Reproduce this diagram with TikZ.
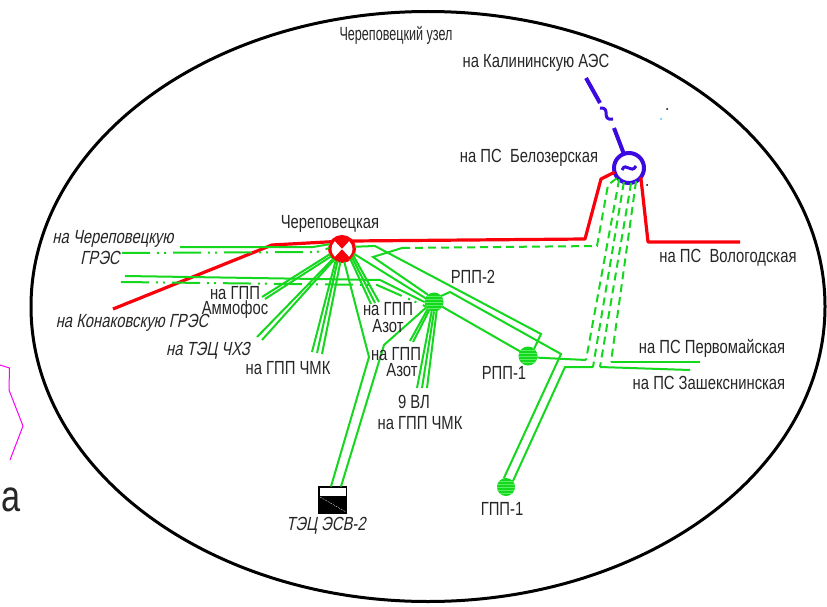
\documentclass[tikz,border=0pt]{standalone}
\usetikzlibrary{shapes.geometric}
\usepackage{graphicx}
\usepackage{fontspec}
\setmainfont[FakeStretch=0.78]{Liberation Sans}
\newfontfamily\cadit[FakeStretch=0.78,FakeSlant=0.2]{Liberation Sans}
\definecolor{gline}{RGB}{20,215,30}
\definecolor{ghatch}{RGB}{90,240,100}
\definecolor{rline}{RGB}{250,0,10}
\definecolor{bline}{RGB}{60,10,225}
\definecolor{mline}{RGB}{250,0,250}
\tikzset{
 lbl/.style={inner sep=0pt,font=\fontsize{19}{19}\selectfont,text=black!85},
 ilbl/.style={inner sep=0pt,font=\fontsize{19}{19}\selectfont\cadit,text=black!85},
 gl/.style={draw=gline,line width=2pt,line join=miter},
 gd/.style={gl,dash pattern=on 8pt off 5pt},
 gdd/.style={gl,dash pattern=on 28pt off 7pt on 2pt off 5pt on 2pt off 7pt},
 rl/.style={draw=rline,line width=3.2pt,line join=round},
 bl/.style={draw=bline,line width=4pt},
 stat/.style={circle,inner sep=0pt,outer sep=0pt,minimum size=#1,fill=gline,
   path picture={\foreach \hy in {-6,-3,0,3,6}{\draw[ghatch,line width=.5pt]
     ([yshift=\hy pt]path picture bounding box.west) -- ([yshift=\hy pt]path picture bounding box.east);}}}
}
\begin{document}
\begin{tikzpicture}[x=1pt,y=-1pt]
\useasboundingbox (0,0) rectangle (827,607);
\fill[white] (0,0) rectangle (827,607);
% outer ellipse
\node[ellipse,draw=black,line width=3pt,minimum width=794pt,minimum height=590pt,inner sep=0pt] (uzel) at (428,306.5) {};
% stations
\node[circle,draw=rline,line width=2pt,inner sep=0pt,outer sep=0pt,minimum size=26pt,fill=rline] (ch) at (342,249) {};
\begin{scope}
 \clip (ch) circle (10.5pt);
 \fill[white] (ch.center) -- (330,236) -- (330,262) -- cycle;
 \fill[white] (ch.center) -- (354,236) -- (354,262) -- cycle;
\end{scope}
\node[circle,draw=bline,line width=4pt,inner sep=0pt,outer sep=0pt,minimum size=30pt,fill=white] (bz) at (629,168) {};
\node[stat=19pt] (p2) at (434,302) {};
\node[stat=19pt] (p1) at (528,356) {};
\node[stat=18pt] (g1) at (506,487) {};
\node[rectangle,draw=black,line width=1pt,fill=black,inner sep=0pt,outer sep=0pt,minimum width=28pt,minimum height=27pt] (es) at (332.5,500) {};
\fill[white] (320,487.5) rectangle (345.5,496);
\draw[white,line width=.3pt,dash pattern=on 2pt off 1pt] (320,497) -- (346,512);
% free ends
\coordinate (kal) at (586,78);
\coordinate (volog) at (740,242);
\coordinate (kona) at (113,309);
\coordinate (tgres) at (180,247);
\coordinate (dgres) at (122,253);
\coordinate (t2) at (125,276);
\coordinate (d2) at (121,282);
\coordinate (am1) at (262,297);
\coordinate (am2) at (265,299);
\coordinate (hz1) at (257,337);
\coordinate (hz2) at (262,340);
\coordinate (ck1) at (312,352);
\coordinate (ck2) at (317,353);
\coordinate (ck3) at (322,354);
\coordinate (az1) at (371,304);
\coordinate (az2) at (375,303);
\coordinate (az3) at (379,302);
\coordinate (bz1) at (410,341);
\coordinate (bz2) at (413,342);
\coordinate (vl1) at (417,388);
\coordinate (vl2) at (422,388);
\coordinate (vl3) at (427,388);
\coordinate (per) at (700,362);
\coordinate (zas) at (690,370);
\coordinate (j1) at (586,360);
\coordinate (j2) at (593,367);
\coordinate (j3) at (600,367);
\coordinate (j4) at (611,362);
% blue feeder
\draw[bl] (kal) -- (600,103);
\draw[bl] (614,128) -- (bz.110);
\draw[draw=bline,line width=3pt] (600,108) .. controls (612,107) and (600,121) .. (613,119);
\draw[draw=bline,line width=3pt] (622,170) .. controls (626,161) and (631,175) .. (636,166);
% red lines
\draw[rl] (kona) -- (272,245) -- (ch.146);
\draw[rl] (ch.38) -- (585,239) -- (601,179) -- (bz.196);
\draw[rl] (bz.322) -- (648,242) -- (volog);
% green left
\draw[gl] (tgres) -- (313,247) -- (ch.158);
\draw[gdd] (dgres) -- (317,252) -- (ch.176);
\draw[gl] (t2) -- (380,280) -- (p2.180);
\draw[gdd] (d2) -- (377,285) -- (p2.207);
% radial from Cherepovetskaya
\draw[gl] (ch.203) -- (am1);
\draw[gl] (ch.214) -- (am2);
\draw[gl] (ch.228) -- (hz1);
\draw[gl] (ch.234) -- (hz2);
\draw[gl] (ch.241) -- (ck1);
\draw[gl] (ch.250) -- (ck2);
\draw[gl] (ch.263) -- (ck3);
\draw[gl] (ch.280) -- (369,357) -- (es.north west -| 331,0);
\draw[gl] (ch.310) -- (az1);
\draw[gl] (ch.320) -- (az2);
\draw[gl] (ch.330) -- (az3);
\draw[gl] (ch.338) -- (p2.156);
\draw[gl] (ch.10) -- (375,246) -- (541,334) -- (p1.50);
\draw[gl] (p2.130) -- (373,257) -- (402,248);
\draw[gd] (402,248) -- (597,246) -- (608,185) -- (bz.220);
% from RPP-2
\draw[gl] (p2.215) -- (384,345) -- (es.north east -| 341,0);
\draw[gl] (p2.228) -- (bz1);
\draw[gl] (p2.240) -- (bz2);
\draw[gl] (p2.256) -- (vl1);
\draw[gl] (p2.270) -- (vl2);
\draw[gl] (p2.286) -- (vl3);
\draw[gl] (p2.40) -- (450,292) -- (561,354) -- (g1.104);
\draw[gl] (p2.-30) -- (p1.150);
% dashed from Belozerskaya
\draw[gd] (bz.229) -- (j1);
\draw[gd] (bz.250) -- (j2);
\draw[gd] (bz.278) -- (j3);
\draw[gd] (bz.298) -- (j4);
\draw[gl] (j1) -- (p1.-10);
\draw[gl] (j2) -- (565,367) -- (g1.40);
\draw[gl] (j3) -- (zas);
\draw[gl] (j4) -- (per);
% magenta
\draw[mline,line width=1pt] (0,365) -- (9.5,368) -- (9,390) -- (23,426) -- (10,460);
% specks
\fill[black] (667,109) circle (1pt);
\fill[black] (647,185) circle (1pt);
\fill[cyan] (661,119) circle (.8pt);
% labels
\node[lbl] (t1) at (396,35) {\scalebox{.85}[1]{Череповецкий узел}};
\node[lbl] (t2a) at (536,63) {на Калининскую АЭС};
\node[lbl] (t3) at (529,158) {на ПС\ \ Белозерская};
\node[lbl] (t4) at (728,258) {на ПС\ \ Вологодская};
\node[lbl] (t5) at (712,348) {на ПС Первомайская};
\node[lbl] (t6) at (709,383) {на ПС Зашекснинская};
\node[lbl] (t7) at (473,277) {РПП-2};
\node[lbl] (t8) at (504,373) {РПП-1};
\node[lbl] (t9) at (502,509) {ГПП-1};
\node[lbl] (t10) at (330,224) {Череповецкая};
\node[ilbl] (t11) at (113,239) {на Череповецкую};
\node[ilbl] (t12) at (100,258) {ГРЭС};
\node[ilbl] (t13) at (132,323) {на Конаковскую ГРЭС};
\node[lbl] (t14) at (235,293) {на ГПП};
\node[lbl] (t15) at (235,310) {Аммофос};
\node[ilbl] (t16) at (208,351) {на ТЭЦ ЧХЗ};
\node[lbl] (t17) at (288,368) {на ГПП ЧМК};
\node[lbl] (t18) at (388,309) {на ГПП};
\node[lbl] (t19) at (388,326) {Азот};
\node[lbl] (t20) at (396,354) {на ГПП};
\node[lbl] (t21) at (402,370) {Азот};
\node[lbl] (t22) at (414,402) {9 ВЛ};
\node[lbl] (t23) at (420,423) {на ГПП ЧМК};
\node[ilbl] (t24) at (326,526) {ТЭЦ ЭСВ-2};
\node[inner sep=0pt,font=\fontsize{44}{44}\selectfont,text=black!85] (t25) at (11,500) {а};
\end{tikzpicture}
\end{document}
